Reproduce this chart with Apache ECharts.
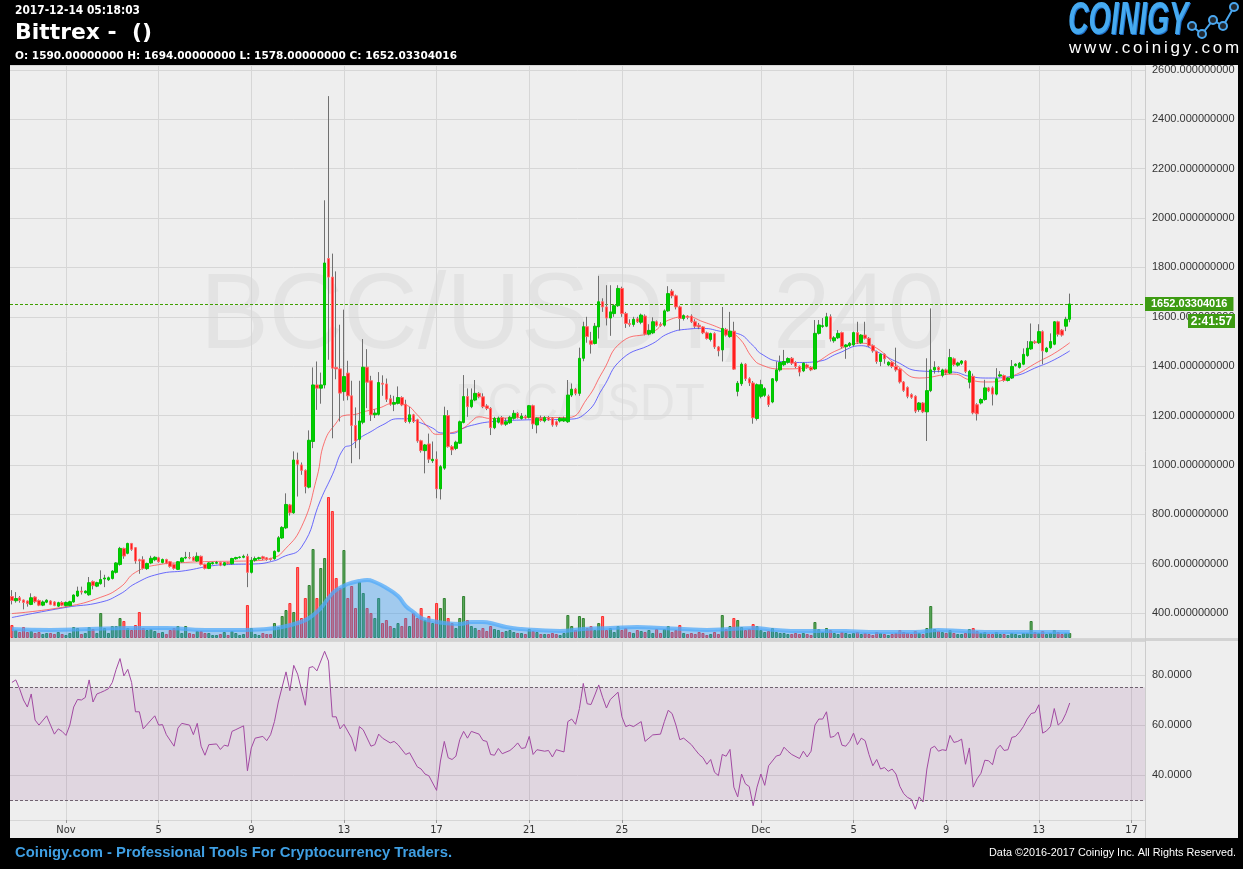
<!DOCTYPE html>
<html><head><meta charset="utf-8">
<script src="https://cdn.jsdelivr.net/npm/echarts@6/dist/echarts.min.js"></script>
<style>html,body{margin:0;padding:0;background:#000;}#c{width:1243px;height:869px;}</style>
</head><body><div id="c"></div>
<script>
// ---------------- DATA ----------------
const firstCandle = Date.UTC(2017, 9, 29, 16); // 4h candles
const candleHours = 4;
const categoryCount = 294;
const tickDates = ['2017-11-01','2017-11-05','2017-11-09','2017-11-13','2017-11-17','2017-11-21','2017-11-25','2017-12-01','2017-12-05','2017-12-09','2017-12-13','2017-12-17'];
const tickLabels = ['Nov','5','9','13','17','21','25','Dec','5','9','13','17'];

const opens = [467,450,462,453,449,435,465,451,432,444,449,445,428,443,430,430,445,469,489,482,474,528,509,519,538,535,540,565,597,662,642,682,665,616,616,580,603,616,624,605,617,608,597,577,608,623,625,626,611,630,597,581,600,602,605,594,604,600,620,625,626,630,565,614,620,628,624,621,620,650,704,745,838,806,1020,1000,978,910,1095,1324,1311,1324,1836,1761,1395,1389,1297,1372,1280,1160,1104,1173,1396,1341,1203,1205,1331,1328,1268,1246,1250,1273,1246,1176,1203,1183,1098,1058,1085,1017,1023,903,987,1200,1074,1067,1088,1172,1277,1236,1263,1290,1276,1239,1229,1151,1173,1192,1165,1171,1189,1209,1188,1196,1193,1240,1162,1189,1178,1192,1189,1175,1178,1178,1175,1283,1307,1290,1432,1560,1503,1492,1559,1661,1640,1595,1613,1645,1715,1613,1573,1569,1592,1578,1603,1530,1535,1580,1570,1566,1624,1704,1685,1640,1593,1603,1603,1580,1566,1559,1535,1508,1532,1478,1466,1549,1520,1542,1298,1329,1408,1349,1332,1188,1278,1282,1278,1255,1342,1385,1406,1416,1432,1415,1399,1381,1405,1395,1389,1533,1561,1562,1600,1503,1515,1536,1479,1484,1486,1536,1495,1526,1513,1483,1459,1419,1448,1405,1416,1399,1388,1336,1314,1285,1278,1224,1251,1215,1301,1385,1395,1363,1385,1372,1430,1404,1412,1421,1335,1359,1244,1251,1265,1312,1312,1287,1360,1362,1342,1352,1403,1395,1408,1443,1470,1499,1495,1540,1459,1475,1489,1580,1546,1562,1590];
const closes = [451,459,451,443,438,462,446,432,445,452,435,431,442,432,443,446,473,489,485,489,523,511,523,536,542,543,570,603,662,631,682,658,611,611,581,601,622,626,608,617,602,589,581,608,623,626,623,613,630,597,581,603,604,605,594,604,600,621,625,627,630,565,614,621,624,620,617,617,650,705,747,840,806,1020,1003,978,912,1100,1324,1311,1324,1818,1761,1392,1389,1291,1358,1280,1160,1097,1178,1396,1335,1203,1210,1334,1327,1266,1246,1253,1273,1243,1176,1203,1176,1097,1058,1081,1023,1023,903,993,1200,1074,1061,1092,1175,1277,1236,1263,1290,1276,1236,1229,1151,1189,1190,1165,1175,1193,1209,1193,1198,1190,1240,1166,1189,1180,1192,1182,1162,1162,1189,1189,1283,1307,1290,1432,1560,1520,1489,1562,1661,1640,1595,1620,1645,1715,1613,1573,1569,1590,1580,1607,1530,1545,1580,1565,1565,1624,1694,1685,1640,1593,1605,1598,1580,1562,1559,1535,1512,1532,1478,1462,1553,1526,1542,1388,1331,1408,1349,1332,1191,1325,1325,1309,1244,1349,1385,1415,1419,1431,1412,1399,1376,1412,1396,1385,1533,1567,1564,1600,1510,1515,1533,1479,1486,1493,1536,1497,1526,1513,1483,1462,1419,1448,1430,1416,1399,1385,1336,1302,1278,1274,1218,1251,1215,1301,1385,1395,1385,1385,1372,1435,1406,1413,1421,1379,1379,1211,1207,1265,1312,1300,1287,1349,1365,1342,1352,1399,1408,1412,1448,1473,1499,1495,1540,1462,1473,1500,1580,1529,1526,1590,1652.03];
const lows = [435,442,442,415,426,432,440,428,428,440,432,428,425,428,427,428,442,465,475,479,470,496,505,515,505,530,536,560,592,620,638,652,600,559,576,575,598,610,604,601,598,584,576,574,604,618,618,610,607,593,577,578,596,598,590,590,596,596,616,621,622,505,560,608,616,615,612,612,616,646,700,740,795,802,872,960,885,905,1068,1223,1248,1310,1426,1108,1347,1176,1260,1262,1007,1068,1023,1165,1230,1178,1190,1200,1280,1255,1240,1218,1245,1238,1170,1168,1170,1090,1050,966,1008,1008,865,860,980,1070,1040,1060,1085,1168,1195,1230,1258,1270,1230,1222,1121,1145,1168,1160,1158,1166,1183,1188,1183,1185,1188,1146,1128,1175,1172,1178,1155,1155,1172,1174,1170,1275,1282,1280,1420,1495,1451,1488,1512,1620,1565,1523,1600,1640,1600,1555,1560,1560,1575,1570,1525,1525,1530,1560,1560,1560,1620,1675,1630,1545,1585,1590,1575,1555,1550,1530,1508,1500,1470,1440,1419,1520,1515,1385,1278,1320,1340,1320,1167,1180,1270,1275,1235,1250,1335,1378,1400,1410,1405,1392,1359,1376,1390,1380,1385,1528,1555,1558,1500,1495,1510,1472,1430,1478,1480,1490,1490,1508,1478,1455,1410,1400,1410,1400,1392,1378,1330,1296,1270,1268,1210,1215,1210,1097,1295,1370,1375,1355,1365,1368,1400,1398,1405,1372,1310,1205,1180,1245,1260,1295,1241,1282,1355,1337,1338,1348,1398,1390,1404,1438,1466,1490,1490,1408,1455,1470,1485,1520,1520,1542,1578];
const highs = [493,485,469,455,451,480,468,455,451,456,452,448,446,448,447,450,476,507,507,492,546,532,527,573,555,548,574,606,668,665,685,684,667,620,630,604,632,630,628,621,620,611,600,611,626,648,647,630,646,633,600,606,608,611,608,607,607,624,628,630,637,640,627,629,628,632,627,624,654,712,752,885,842,1055,1050,1010,982,1140,1395,1419,1374,2072,2494,1856,1784,1568,1629,1422,1341,1233,1341,1510,1469,1361,1225,1376,1363,1350,1284,1280,1318,1278,1264,1235,1207,1187,1102,1085,1127,1095,1055,1000,1236,1222,1080,1098,1180,1364,1310,1310,1344,1295,1290,1246,1234,1195,1196,1198,1190,1199,1222,1214,1210,1203,1243,1244,1193,1200,1198,1198,1193,1180,1194,1196,1344,1330,1312,1475,1580,1600,1539,1575,1766,1675,1728,1728,1652,1728,1722,1620,1590,1600,1600,1613,1610,1570,1598,1585,1578,1630,1724,1712,1690,1645,1610,1607,1610,1590,1575,1562,1540,1536,1537,1482,1640,1555,1620,1580,1340,1415,1412,1355,1340,1330,1345,1315,1285,1352,1419,1443,1466,1436,1437,1420,1403,1416,1410,1400,1587,1587,1595,1616,1610,1522,1546,1540,1490,1498,1540,1580,1530,1580,1518,1488,1463,1452,1452,1420,1420,1475,1392,1340,1318,1290,1282,1255,1255,1432,1634,1420,1400,1390,1390,1470,1435,1418,1425,1425,1385,1370,1250,1270,1345,1316,1318,1392,1380,1366,1356,1425,1412,1417,1472,1502,1573,1505,1570,1545,1478,1533,1583,1584,1550,1600,1694];

// volume (relative units, per candle)
const volumes = [13,8,6,11,6,7,5,6,4,5,5,4,6,4,3,5,11,10,4,5,11,9,5,25,10,5,12,12,20,17,10,8,13,26,10,8,9,7,5,6,4,8,10,12,5,12,5,4,7,7,5,5,3,3,4,6,3,7,5,3,4,33,10,4,3,5,4,4,15,11,22,28,35,26,71,20,40,53,89,40,70,80,141,127,60,50,88,40,52,30,56,45,30,25,20,40,15,18,12,10,15,12,20,12,25,20,30,18,22,15,35,30,40,20,15,10,20,42,18,12,10,8,10,7,12,9,8,6,7,8,6,5,5,4,9,7,6,4,4,4,5,4,3,5,23,12,8,22,20,10,12,8,15,22,8,10,6,12,8,10,6,5,8,7,6,8,5,9,5,9,12,6,8,13,5,4,5,4,6,5,3,4,6,4,23,9,12,20,18,11,8,9,14,12,8,6,7,10,6,5,5,4,4,5,4,5,4,3,16,9,6,10,8,5,4,6,5,4,5,6,4,5,4,3,6,5,4,3,4,5,8,6,5,4,7,5,4,10,32,9,7,6,5,8,5,4,4,5,9,10,7,5,6,4,4,6,4,4,3,5,4,3,5,5,17,6,5,7,4,5,8,6,4,5,5];
// volume moving average  [candle index, value]
const volumeAvg = [[0,9],[10,8],[20,9],[30,10],[40,10],[50,8],[60,8],[66,9],[70,11],[74,15],[77,20],[80,30],[82,40],[84,48],[87,54],[90,57],[92,58],[94,56],[97,50],[100,42],[102,32],[104,26],[106,20],[109,17],[112,15],[116,14],[119,16],[122,16],[125,14],[128,11],[132,9],[136,8],[142,7],[148,9],[155,10],[162,11],[168,10],[174,9],[180,8],[186,9],[192,10],[198,8],[204,7],[210,7],[216,7],[222,6],[228,6],[234,6],[240,8],[246,7],[252,6],[258,6],[264,6],[270,6],[274,6]];

// moving averages of price  [candle index, price]
const maFast = [[0,398],[14,426],[23,464],[28,504],[32,565],[38,596],[45,605],[52,609],[57,610],[63,612],[68,626],[70,646],[75,749],[79,950],[81,1095],[84,1170],[86,1200],[89,1205],[91,1215],[95,1230],[99,1250],[102,1243],[105,1203],[108,1149],[110,1124],[113,1128],[117,1150],[119,1176],[121,1195],[124,1188],[132,1192],[144,1192],[149,1269],[153,1377],[158,1499],[166,1539],[170,1586],[175,1600],[179,1580],[184,1550],[188,1519],[192,1430],[194,1406],[199,1389],[207,1395],[209,1420],[214,1466],[220,1493],[224,1473],[229,1406],[235,1352],[244,1368],[248,1345],[253,1336],[259,1359],[266,1419],[270,1452],[274,1495]];
const maSlow = [[0,382],[14,423],[23,444],[28,477],[32,520],[38,558],[45,572],[52,592],[57,597],[63,599],[68,612],[70,626],[75,667],[80,860],[83,960],[86,1068],[88,1081],[90,1108],[93,1135],[96,1162],[100,1187],[103,1187],[105,1176],[109,1149],[111,1130],[114,1128],[117,1149],[119,1160],[124,1175],[132,1182],[144,1185],[149,1215],[153,1310],[158,1429],[166,1492],[170,1532],[175,1550],[179,1553],[184,1540],[188,1532],[192,1483],[194,1451],[199,1419],[204,1415],[209,1420],[214,1452],[220,1483],[224,1459],[229,1419],[235,1381],[244,1376],[248,1359],[253,1352],[259,1359],[266,1399],[270,1426],[274,1462]];

// RSI  [candle index, value]
const rsi = [[0,77],[1,78],[2,74.4],[3,70],[4,67.2],[5,72.4],[6,62],[7,60],[9,63.7],[10,60],[11,56.4],[12,58.5],[13,57.5],[14,55.9],[15,60],[16,67.2],[17,70.2],[18,70],[19,71],[20,78],[21,69.2],[22,72.4],[23,73],[24,73.7],[25,74.5],[26,77],[27,82.2],[28,86.5],[29,79.6],[30,82.2],[31,77],[32,65.3],[33,65.3],[34,58.5],[36,62],[37,63.7],[38,60],[39,60.2],[40,56.2],[42,51.6],[43,58.8],[44,60.7],[46,60],[47,56.2],[48,60.7],[49,51.6],[50,48],[51,52.2],[53,52.5],[54,50.3],[55,52],[56,51.6],[57,57.5],[58,58.2],[60,59.7],[61,41.8],[62,50.9],[63,54.8],[65,55.5],[66,53.8],[67,56.2],[68,61.4],[69,69.2],[71,81.2],[72,73.7],[73,83.8],[74,80.3],[76,67.9],[77,82.9],[78,83.3],[79,81.6],[81,89.4],[82,85.5],[83,63.3],[84,63.3],[85,58.5],[86,60.3],[88,54.8],[89,49.6],[90,59.4],[91,58.1],[93,51.6],[94,52.2],[95,56.4],[96,54.8],[98,52.9],[99,53.5],[100,52.2],[102,48.3],[103,49],[105,43.4],[106,42.5],[107,40.5],[108,39.8],[110,34],[111,45.7],[112,53.5],[113,47],[114,46.3],[115,47.6],[116,54.2],[117,57.5],[118,54.8],[119,57.5],[121,56.4],[122,53.9],[123,53.5],[124,48.3],[125,48],[126,50.7],[127,48.6],[129,49.9],[130,51.2],[131,52.9],[132,50.7],[133,51],[134,55.5],[135,48.3],[136,50.2],[138,49.6],[139,49.9],[140,47.3],[141,50.2],[143,49.3],[144,61.4],[145,62.4],[146,60.3],[147,66.6],[148,76.6],[149,68.5],[150,68.2],[151,72],[152,76],[153,71.1],[154,66.8],[155,70.2],[157,73.1],[158,63.3],[159,59.4],[160,60],[161,59.4],[163,61.4],[164,53.5],[165,54.8],[166,56.1],[168,56.4],[169,61.4],[170,65.9],[171,64.6],[172,60],[173,54.2],[174,54.8],[176,52.2],[177,50.2],[178,48.3],[179,47],[180,44.4],[181,46.3],[182,41.2],[183,39.9],[184,48.3],[185,47.6],[186,50.3],[187,35.3],[188,31.4],[189,40.5],[190,36.6],[191,35.5],[192,27.9],[193,35.3],[194,40.5],[195,36],[196,43.8],[198,47.7],[199,48.1],[200,51.2],[201,49.6],[202,48.3],[204,46.7],[205,49.6],[206,47.3],[207,49.6],[208,60],[209,62.4],[210,62.4],[211,65.3],[212,55.1],[213,55.5],[214,57.2],[215,52],[216,51.6],[217,53.5],[218,56.8],[219,52.2],[220,54.8],[221,53.8],[222,48.3],[223,43.8],[224,46.3],[225,42.5],[226,43.1],[227,41.6],[228,42.5],[229,40.5],[230,35.6],[231,32.7],[232,31.2],[233,30.4],[234,26.5],[235,31.4],[236,29.4],[237,42.5],[238,50.7],[239,51.6],[240,49.6],[241,50.2],[242,49.9],[243,55.9],[244,53.1],[245,53.5],[246,54.4],[247,44.4],[248,50.9],[249,35.3],[250,38.6],[251,40.8],[252,46],[253,45.8],[254,44.2],[255,50.3],[256,52],[257,49.9],[258,50.2],[259,55.1],[260,55.5],[261,57.2],[262,59.4],[263,62.4],[264,64.6],[265,65],[266,68.1],[267,56.8],[268,57.7],[269,59.4],[270,66.6],[271,60],[272,61.4],[273,64.6],[274,68.8]];
const rsiBand = [30, 75];

const lastPrice = 1652.03304016;
const lastPriceText = '1652.03304016';
const countdownText = '2:41:57';
const headerTime = '2017-12-14 05:18:03';
const headerTitle = 'Bittrex -  ()';
const headerOHLC = 'O: 1590.00000000 H: 1694.00000000 L: 1578.00000000 C: 1652.03304016';
const watermark1 = 'BCC/USDT, 240';
const watermark2 = 'BCC/USDT';
const logoText = 'COINIGY';
const logoUrl = 'www.coinigy.com';
const footerLeft = 'Coinigy.com - Professional Tools For Cryptocurrency Traders.';
const footerRight = 'Data \u00A92016-2017 Coinigy Inc. All Rights Reserved.';

// ---------------- BUILD ----------------
const STEP = candleHours * 3600 * 1000;
const categories = [];
for (let i = 0; i < categoryCount; i++) categories.push(new Date(firstCandle + i * STEP).toISOString().slice(0, 16));
const tickMap = {};
tickDates.forEach((d, k) => { tickMap[Math.round((Date.parse(d + 'T00:00:00Z') - firstCandle) / STEP)] = tickLabels[k]; });
const isTick = (idx) => tickMap[idx] !== undefined;

const wickData = opens.map((o, i) => [o, closes[i], lows[i], highs[i]]);
const bodyData = opens.map((o, i) => [o, closes[i], Math.min(o, closes[i]), Math.max(o, closes[i])]);
const volData = volumes.map((v, i) => ({
  value: v,
  itemStyle: closes[i] >= opens[i]
    ? { color: 'rgba(70,160,70,0.85)', borderColor: '#2f7f2f', borderWidth: 1 }
    : { color: 'rgba(255,90,90,0.85)', borderColor: '#ff2a2a', borderWidth: 1 }
}));

const measureCtx = document.createElement('canvas').getContext('2d');
function textW(t, font) { measureCtx.font = font; return measureCtx.measureText(t).width; }
function fitText(t, font, x, y, w, fill, align, extra) {
  const s = w / textW(t, font);
  return Object.assign({ type: 'text', x: x, y: y, scaleX: s, silent: true, z: 10,
    style: { text: t, font: font, fill: fill, textAlign: align || 'left', textVerticalAlign: 'middle', verticalAlign: 'middle' } }, extra || {});
}
function spacedText(t, font, x0, x1, y, fill) {
  const tot = textW(t, font);
  const gap = (x1 - x0 - tot) / (t.length - 1);
  const out = []; let x = x0;
  for (const ch of t) {
    out.push({ type: 'text', x: x, y: y, silent: true, z: 10, style: { text: ch, font: font, fill: fill, textVerticalAlign: 'middle', verticalAlign: 'middle' } });
    x += textW(ch, font) + gap;
  }
  return out;
}

const chart = echarts.init(document.getElementById('c'), null, { renderer: 'canvas' });

const gridLine = { color: '#d6d6d6', width: 1 };
const option = {
  animation: false,
  backgroundColor: '#000',
  grid: [
    { left: 10, top: 65, width: 1135, height: 573, show: false },
    { left: 10, top: 641, width: 1135, height: 179, show: false }
  ],
  xAxis: [
    { type: 'category', gridIndex: 0, data: categories, boundaryGap: true, z: 1,
      axisLine: { show: false }, axisTick: { show: false }, axisLabel: { show: false },
      splitLine: { show: true, interval: isTick, alignWithLabel: true, lineStyle: gridLine } },
    { type: 'category', gridIndex: 1, data: categories, boundaryGap: true, z: 1,
      axisLine: { show: false },
      axisTick: { show: true, interval: isTick, alignWithLabel: true, length: 3, inside: false, lineStyle: { color: '#999' } },
      axisLabel: { show: true, interval: isTick, formatter: (v, idx) => tickMap[idx] || '', color: '#333', fontSize: 11,
        fontFamily: '"Liberation Sans Narrow","DejaVu Sans Condensed",sans-serif', margin: 5 },
      splitLine: { show: true, interval: isTick, alignWithLabel: true, lineStyle: gridLine } }
  ],
  yAxis: [
    { type: 'value', gridIndex: 0, position: 'right', min: 299, max: 2620, splitNumber: 12, minInterval: 200, maxInterval: 200, z: 1,
      axisLine: { show: false }, axisTick: { show: false },
      axisLabel: { formatter: v => v.toFixed(9), color: '#333', fontSize: 11, fontFamily: '"Liberation Sans",Arial,sans-serif', margin: 7, showMinLabel: false, showMaxLabel: false },
      splitLine: { show: true, lineStyle: gridLine } },
    { type: 'value', gridIndex: 0, min: 0, max: 573, show: false, splitLine: { show: false } },
    { type: 'value', gridIndex: 1, position: 'right', min: 22.2, max: 93.5, splitNumber: 4, minInterval: 20, maxInterval: 20, z: 1,
      axisLine: { show: false }, axisTick: { show: false },
      axisLabel: { formatter: v => v.toFixed(4), color: '#333', fontSize: 11, fontFamily: '"Liberation Sans",Arial,sans-serif', margin: 7, showMinLabel: false, showMaxLabel: false },
      splitLine: { show: true, lineStyle: gridLine } }
  ],
  series: [
    { type: 'bar', name: 'volume', xAxisIndex: 0, yAxisIndex: 1, data: volData, barWidth: 3, z: 2, silent: true },
    { type: 'line', name: 'volAvg', xAxisIndex: 0, yAxisIndex: 1, data: volumeAvg, smooth: true, showSymbol: false, z: 3, silent: true,
      lineStyle: { color: 'rgba(80,170,250,0.75)', width: 4 }, areaStyle: { color: 'rgba(40,145,240,0.55)' } },
    { type: 'line', name: 'maSlow', xAxisIndex: 0, yAxisIndex: 0, data: maSlow, smooth: true, showSymbol: false, z: 4, silent: true,
      lineStyle: { color: 'rgba(60,60,255,0.75)', width: 1 } },
    { type: 'line', name: 'maFast', xAxisIndex: 0, yAxisIndex: 0, data: maFast, smooth: true, showSymbol: false, z: 4, silent: true,
      lineStyle: { color: 'rgba(255,60,60,0.7)', width: 1 } },
    { type: 'candlestick', name: 'wick', xAxisIndex: 0, yAxisIndex: 0, data: wickData, barWidth: 1, z: 5, silent: true,
      itemStyle: { color: '#707070', color0: '#707070', borderColor: '#707070', borderColor0: '#707070', borderWidth: 1 } },
    { type: 'candlestick', name: 'body', xAxisIndex: 0, yAxisIndex: 0, data: bodyData, barWidth: 3, z: 6, silent: true,
      itemStyle: { color: '#00cc00', color0: '#ff1e1e', borderColor: '#00c400', borderColor0: '#ff6b6b', borderWidth: 1 },
      markLine: { silent: true, symbol: 'none', animation: false,
        lineStyle: { color: '#3f9f00', type: [3, 2], width: 1 },
        label: { show: true, position: 'end', distance: 0, formatter: lastPriceText, backgroundColor: '#3d9b12', color: '#fff',
          fontWeight: 'bold', fontSize: 11, fontFamily: '"Liberation Sans",Arial,sans-serif', padding: [2, 6, 1, 6] },
        data: [{ yAxis: lastPrice }] } },
    { type: 'line', name: 'rsi', xAxisIndex: 1, yAxisIndex: 2, data: rsi, showSymbol: false, z: 4, silent: true,
      lineStyle: { color: '#a24aa2', width: 1 },
      markArea: { silent: true, itemStyle: { color: 'rgba(140,70,140,0.14)' }, data: [[{ yAxis: rsiBand[0] }, { yAxis: rsiBand[1] }]] },
      markLine: { silent: true, symbol: 'none', label: { show: false }, lineStyle: { color: '#6f626f', type: [3, 2], width: 1 },
        data: [{ yAxis: rsiBand[0] }, { yAxis: rsiBand[1] }] } }
  ],
  graphic: { elements: [] }
};

const els = [];
els.push({ type: 'rect', shape: { x: 10, y: 65, width: 1228, height: 773 }, style: { fill: '#eeeeee' }, z: -5, silent: true });
els.push({ type: 'rect', shape: { x: 10, y: 638, width: 1228, height: 3 }, style: { fill: '#d2d2d2' }, z: -4, silent: true });
els.push({ type: 'line', shape: { x1: 1145.5, y1: 65, x2: 1145.5, y2: 838 }, style: { stroke: '#cccccc', lineWidth: 1 }, z: -4, silent: true });
// watermarks
els.push(fitText(watermark1, '108px "Liberation Sans",Arial,sans-serif', 200, 318, 745, 'rgba(0,0,0,0.045)', 'left', { z: -3 }));
els.push(fitText(watermark2, '52px "Liberation Sans",Arial,sans-serif', 455, 406, 250, 'rgba(0,0,0,0.04)', 'left', { z: -3 }));
// header
els.push(fitText(headerTime, 'bold 12px "DejaVu Sans",Verdana,sans-serif', 15, 11, 125, '#fff'));
els.push(fitText(headerTitle, 'bold 22px "DejaVu Sans",Verdana,sans-serif', 15, 33, 137, '#fff'));
els.push(fitText(headerOHLC, 'bold 11px "DejaVu Sans",Verdana,sans-serif', 15, 56, 442, '#fff'));
// logo
const logoFont = 'italic bold 46px "Liberation Sans Narrow","Liberation Sans",sans-serif';
els.push(fitText(logoText, logoFont, 1069, 22, 120, '#1f6fc8', 'left', { z: 10 }));
els.push(Object.assign(fitText(logoText, logoFont, 1068, 21, 120, '#46aaf0', 'left', { z: 11 })));
spacedText(logoUrl, '17px "Liberation Sans",Arial,sans-serif', 1069, 1237, 48, '#ffffff').forEach(e => els.push(e));
const logoPts = [[1192, 26], [1202, 34], [1213, 20], [1223, 26], [1234, 7]];
els.push({ type: 'polyline', shape: { points: logoPts }, style: { stroke: '#4aa6ee', lineWidth: 2, fill: null }, z: 10, silent: true });
logoPts.forEach(p => els.push({ type: 'circle', shape: { cx: p[0], cy: p[1], r: 4 }, style: { fill: '#202830', stroke: '#4aa6ee', lineWidth: 2 }, z: 11, silent: true }));
// footer
els.push(fitText(footerLeft, 'bold 15px "Liberation Sans Narrow","Liberation Sans",sans-serif', 15, 853, 437, '#3f9fe3'));
els.push(fitText(footerRight, '11px "Liberation Sans Narrow","Liberation Sans",sans-serif', 1236, 853, 247, '#ffffff', 'right'));
option.graphic.elements = els;

chart.setOption(option);

// countdown box under the last price label
const py = chart.convertToPixel({ yAxisIndex: 0 }, lastPrice);
chart.setOption({ graphic: { elements: els.concat([
  { type: 'rect', shape: { x: 1188, y: py + 10, width: 47, height: 14 }, style: { fill: '#3d9b12' }, z: 20, silent: true },
  { type: 'text', x: 1211.5, y: py + 17.5, silent: true, z: 21,
    style: { text: countdownText, font: 'bold 12px "Liberation Sans",Arial,sans-serif', fill: '#fff', textAlign: 'center', textVerticalAlign: 'middle', verticalAlign: 'middle' } }
]) } }, { replaceMerge: ['graphic'] });
</script>
</body></html>
